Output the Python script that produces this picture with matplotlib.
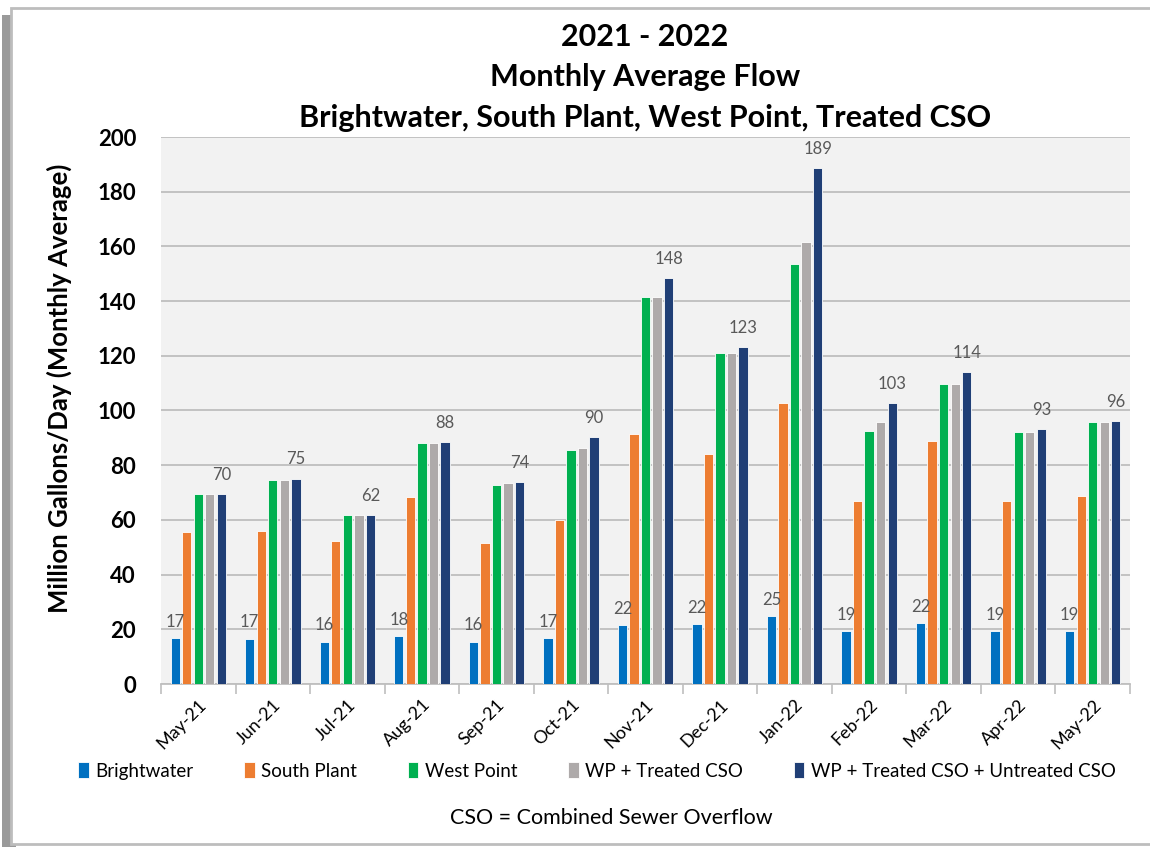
import matplotlib.pyplot as plt
from matplotlib.patches import Rectangle
import numpy as np

plt.rcParams['font.family'] = ['Lato', 'DejaVu Sans']

months = ['May-21', 'Jun-21', 'Jul-21', 'Aug-21', 'Sep-21', 'Oct-21', 'Nov-21',
          'Dec-21', 'Jan-22', 'Feb-22', 'Mar-22', 'Apr-22', 'May-22']

brightwater = [16.8, 16.6, 15.5, 17.6, 15.5, 16.8, 21.6, 21.9, 24.8, 19.2, 22.3, 19.2, 19.2]
south_plant = [55.5, 56.0, 52.2, 68.2, 51.6, 60.0, 91.5, 84.2, 102.6, 67.0, 88.9, 67.0, 68.9]
west_point = [69.4, 74.6, 61.9, 88.2, 72.9, 85.5, 141.6, 121.0, 153.7, 92.6, 109.8, 92.1, 95.8]
wp_treated = [69.4, 74.6, 61.9, 88.2, 73.4, 86.3, 141.6, 121.0, 161.5, 95.8, 109.8, 92.1, 95.8]
wp_total = [69.6, 75.1, 61.9, 88.3, 73.9, 90.2, 148.3, 123.3, 188.6, 102.8, 114.1, 93.1, 96.3]

series_names = ['Brightwater', 'South Plant', 'West Point', 'WP + Treated CSO',
                'WP + Treated CSO + Untreated CSO']
series = [brightwater, south_plant, west_point, wp_treated, wp_total]
colors = ['#0070C0', '#ED7D31', '#00B050', '#AEAAAA', '#203F76']

fig = plt.figure(figsize=(11.5, 8.47), dpi=100)

# frame with a shadow on the left, like the pasted Excel chart
fig.patches.append(Rectangle((0.002, 0.0), 0.012, 0.982, transform=fig.transFigure,
                             facecolor='#9A9A9A', edgecolor='none', zorder=-3))
fig.patches.append(Rectangle((0.0095, 0.004), 0.995, 0.986, transform=fig.transFigure,
                             facecolor='white', edgecolor='#BDBDBD', linewidth=2, zorder=-2))

ax = fig.add_axes([161 / 1150, 1 - 684 / 847, (1130 - 161) / 1150, (684 - 137) / 847])
ax.set_facecolor('#F2F2F2')

x = np.arange(len(months))
slot = 0.155
width = 0.125
bars = []
for i, (vals, name, c) in enumerate(zip(series, series_names, colors)):
    b = ax.bar(x + (i - 2) * slot, vals, width, color=c, label=name,
               edgecolor='white', linewidth=0.6, zorder=3)
    bars.append(b)

# value labels on Brightwater and total
for rect, v in zip(bars[0], brightwater):
    ax.annotate(f'{round(v)}', (rect.get_x() + rect.get_width() / 2, v),
                xytext=(0, 6), textcoords='offset points', ha='center', va='bottom',
                fontsize=12, color='#595959')
for rect, v in zip(bars[4], wp_total):
    ax.annotate(f'{round(v)}', (rect.get_x() + rect.get_width() / 2, v),
                xytext=(0, 8), textcoords='offset points', ha='center', va='bottom',
                fontsize=12, color='#595959')

ax.set_xlim(-0.5, len(months) - 0.5)
ax.set_ylim(0, 200)
ax.set_yticks(range(0, 201, 20))
ax.yaxis.grid(True, color='#BFBFBF', linewidth=1.3, zorder=0)
ax.set_axisbelow(True)
for s in ['top', 'right', 'left']:
    ax.spines[s].set_visible(False)
ax.spines['bottom'].set_color('#BFBFBF')
ax.spines['bottom'].set_linewidth(1.3)

ax.set_xticks(x)
ax.set_xticklabels(months, rotation=45, ha='right', va='top', rotation_mode='anchor',
                   fontsize=13)
ax.tick_params(axis='x', length=0, pad=9)
ax.set_xticks(np.arange(-0.5, len(months), 1), minor=True)
ax.tick_params(axis='x', which='minor', length=7, color='#BFBFBF', width=1.2)
ax.tick_params(axis='y', length=0, pad=18, labelsize=16)
for t in ax.get_yticklabels():
    t.set_fontweight('bold')

ax.set_ylabel('Million Gallons/Day (Monthly Average)', fontsize=18.5, fontweight='bold')
ax.yaxis.set_label_coords(-0.092, 0.541)

fig.text(645 / 1150, 1 - 37 / 847, '2021 - 2022', ha='center', va='center',
         fontsize=22, fontweight='bold')
fig.text(645 / 1150, 1 - 77 / 847, 'Monthly Average Flow', ha='center', va='center',
         fontsize=22, fontweight='bold')
fig.text(645 / 1150, 1 - 118 / 847, 'Brightwater, South Plant, West Point, Treated CSO',
         ha='center', va='center', fontsize=22, fontweight='bold')

fig.legend(handles=bars, labels=series_names, loc='center', ncol=5,
           bbox_to_anchor=(597 / 1150, 1 - 771 / 847), frameon=False, fontsize=13.5,
           handlelength=0.55, handleheight=0.9, handletextpad=0.35, columnspacing=2.72)

fig.text(611 / 1150, 1 - 818 / 847, 'CSO = Combined Sewer Overflow', ha='center',
         va='center', fontsize=15.5)

fig.savefig('out.png', dpi=100)
